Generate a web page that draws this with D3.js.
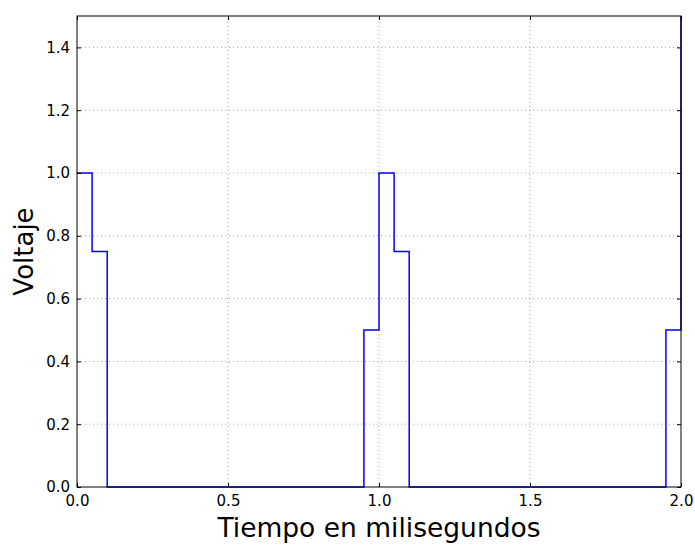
<!DOCTYPE html>
<html>
<head>
<meta charset="utf-8">
<script src="https://cdn.jsdelivr.net/npm/d3@7"></script>
<style>
  body { margin: 0; background: #fff; }
  text { font-family: "DejaVu Sans", sans-serif; fill: #000; }
</style>
</head>
<body>
<div id="chart"></div>
<script>
// Step signal (steps-post): time in ms, voltage
const times = [0, 0.05, 0.1, 0.95, 1.0, 1.05, 1.1, 1.95, 2.0];
const volts = [1.0, 0.75, 0, 0.5, 1.0, 0.75, 0, 0.5, 1.6];
const xTicks = [0, 0.5, 1.0, 1.5, 2.0];
const yTicks = [0, 0.2, 0.4, 0.6, 0.8, 1.0, 1.2, 1.4];

document.addEventListener('DOMContentLoaded', function () {
    const width = 695;
    const height = 545;
    const marginTop = 16;
    const marginRight = 14;
    const marginBottom = 58;
    const marginLeft = 77;

    const x = d3.scaleLinear().domain([0, 2]).range([marginLeft, width - marginRight]);
    const y = d3.scaleLinear().domain([0, 1.5]).range([height - marginBottom, marginTop]);

    const svg = d3.create("svg")
        .attr("width", width)
        .attr("height", height);
    d3.select("#chart").append(() => svg.node());

    // Grid lines (dotted)
    const grid = svg.append("g").attr("stroke", "#666").attr("stroke-width", 0.6)
        .attr("stroke-dasharray", "1,3");
    grid.selectAll("line.gx").data(xTicks.slice(1, -1)).join("line")
        .attr("x1", d => x(d)).attr("x2", d => x(d))
        .attr("y1", y(0)).attr("y2", y(1.5));
    grid.selectAll("line.gy").data(yTicks.slice(1)).join("line")
        .attr("x1", x(0)).attr("x2", x(2))
        .attr("y1", d => y(d)).attr("y2", d => y(d));

    // Data line, clipped to the plot area
    svg.append("clipPath").attr("id", "clip").append("rect")
        .attr("x", x(0) - 1).attr("y", y(1.5))
        .attr("width", x(2) - x(0) + 2).attr("height", y(0) - y(1.5) + 1);

    const line = d3.line()
        .x((d, i) => x(times[i]))
        .y(d => y(d))
        .curve(d3.curveStepAfter);

    svg.append("path")
        .attr("clip-path", "url(#clip)")
        .attr("d", line(volts))
        .attr("fill", "none")
        .attr("stroke", "#0000ff")
        .attr("stroke-width", 1.5);

    // Axes with inward ticks on all sides
    const fmt = d3.format(".1f");
    const tickLen = 4;

    const gxB = svg.append("g")
        .attr("transform", `translate(0,${y(0)})`)
        .call(d3.axisBottom(x).tickValues(xTicks).tickFormat(fmt).tickSizeInner(-tickLen).tickSizeOuter(0).tickPadding(8));
    const gxT = svg.append("g")
        .attr("transform", `translate(0,${y(1.5)})`)
        .call(d3.axisTop(x).tickValues(xTicks).tickFormat("").tickSizeInner(-tickLen).tickSizeOuter(0));
    const gyL = svg.append("g")
        .attr("transform", `translate(${x(0)},0)`)
        .call(d3.axisLeft(y).tickValues(yTicks).tickFormat(fmt).tickSizeInner(-tickLen).tickSizeOuter(0).tickPadding(7));
    const gyR = svg.append("g")
        .attr("transform", `translate(${x(2)},0)`)
        .call(d3.axisRight(y).tickValues(yTicks).tickFormat("").tickSizeInner(-tickLen).tickSizeOuter(0));

    [gxB, gxT, gyL, gyR].forEach(g => {
        g.attr("font-size", null).attr("font-family", null);
        g.select(".domain").remove();
        g.selectAll(".tick line").attr("stroke", "#000");
        g.selectAll(".tick text").style("font-size", "15px").style("font-family", "DejaVu Sans");
    });

    // Frame
    svg.append("rect")
        .attr("x", x(0)).attr("y", y(1.5))
        .attr("width", x(2) - x(0)).attr("height", y(0) - y(1.5))
        .attr("fill", "none").attr("stroke", "#000").attr("stroke-width", 1);

    // Axis titles
    svg.append("text")
        .attr("x", (x(0) + x(2)) / 2)
        .attr("y", 537)
        .attr("text-anchor", "middle")
        .style("font-size", "26.5px")
        .text("Tiempo en milisegundos");

    svg.append("text")
        .attr("transform", "rotate(-90)")
        .attr("x", -(y(0) + y(1.5)) / 2)
        .attr("y", 33)
        .attr("text-anchor", "middle")
        .style("font-size", "26px")
        .text("Voltaje");
});
</script>
</body>
</html>
